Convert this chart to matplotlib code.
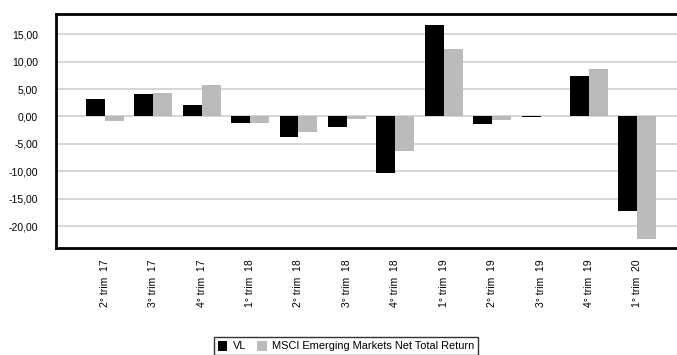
import numpy as np
import matplotlib
matplotlib.use("Agg")
import matplotlib.pyplot as plt

trimestres = ["2° trim  17", "3° trim  17", "4° trim  17", "1° trim  18", "2° trim  18", "3° trim  18",
              "4° trim  18", "1° trim  19", "2° trim  19", "3° trim  19", "4° trim  19", "1° trim  20"]
vl = [3.2, 4.1, 2.1, -1.1, -3.8, -2.0, -10.4, 16.7, -1.3, -0.15, 7.4, -17.2]
msci = [-0.9, 4.3, 5.8, -1.1, -2.9, -0.4, -6.3, 12.3, -0.7, 0.05, 8.7, -22.3]
yticks = [15, 10, 5, 0, -5, -10, -15, -20]

plt.rcParams['font.family'] = ['Liberation Sans', 'DejaVu Sans']

fig = plt.figure(figsize=(6.77, 3.55), dpi=100)
ax = fig.add_axes([56/677, 1-248/355, 1-56/677, 234/355])

x = np.arange(len(trimestres))
w = 0.39
ax.bar(x - w/2, vl, w, color='black', label='VL', zorder=3)
ax.bar(x + w/2, msci, w, color='#bbbbbb', label='MSCI Emerging Markets Net Total Return', zorder=3)

ax.set_xlim(-1.01, 11.82)
ax.set_ylim(-24.0, 18.7)
ax.set_yticks(yticks)
ax.set_yticklabels([("%.2f" % v).replace('.', ',') for v in yticks], fontsize=7.5)
ax.yaxis.grid(True, color='#d0d0d0', linewidth=1.2, zorder=0)
ax.tick_params(axis='y', length=0, pad=13)
ax.set_xticks(x)
ax.set_xticklabels(trimestres, rotation=90, fontsize=7.5)
ax.tick_params(axis='x', length=0, pad=8)

for s in ['left', 'top', 'bottom']:
    ax.spines[s].set_linewidth(2)
    ax.spines[s].set_color('black')
ax.spines['right'].set_visible(False)

leg = fig.legend(loc='lower center', bbox_to_anchor=(346/677, -0.004), ncol=2, fontsize=7.9,
                 frameon=True, fancybox=False, edgecolor='black', handlelength=0.9,
                 handleheight=1.05, handletextpad=0.5, columnspacing=0.95,
                 borderpad=0.35, borderaxespad=0.1)
leg.get_frame().set_linewidth(1)

fig.savefig("out.png", dpi=100)
